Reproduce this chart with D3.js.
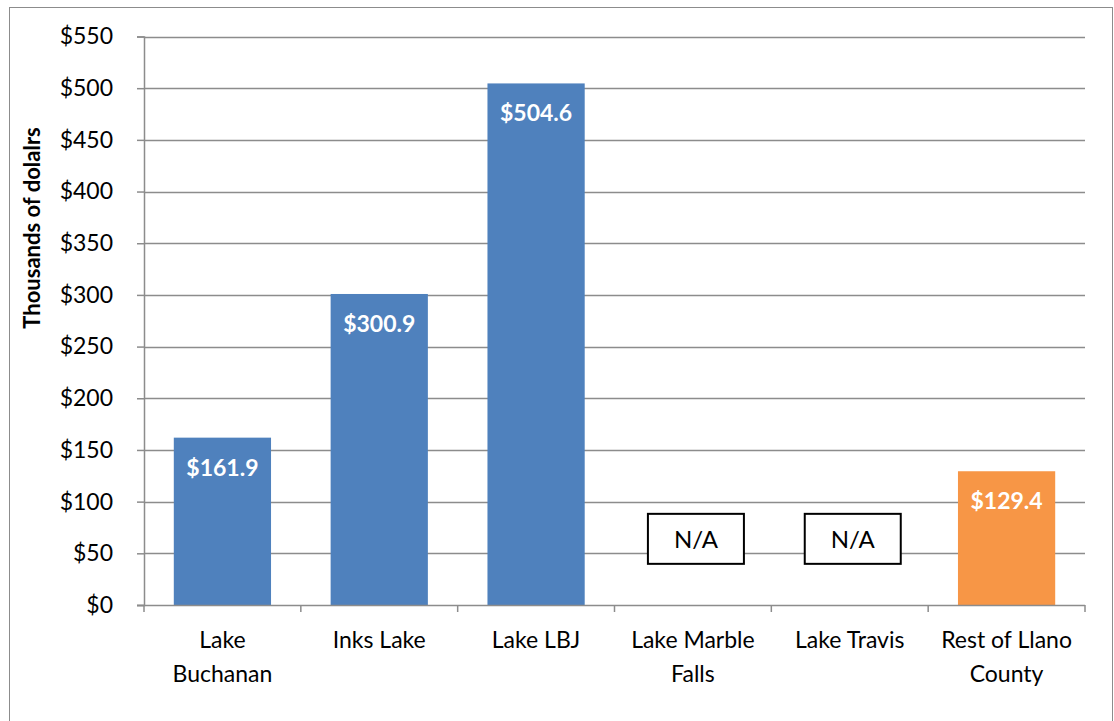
<!DOCTYPE html>
<html>
<head>
<meta charset="utf-8">
<script src="https://cdn.jsdelivr.net/npm/d3@7"></script>
<style>
  body { margin: 0; background: #fff; }
  svg { display: block; font-family: Lato, "Open Sans", sans-serif; }
</style>
</head>
<body>
<svg id="chart"></svg>
<script>
const categories = [
  ['Lake', 'Buchanan'],
  ['Inks Lake'],
  ['Lake LBJ'],
  ['Lake Marble', 'Falls'],
  ['Lake Travis'],
  ['Rest of Llano', 'County'],
];
const values = [161.9, 300.9, 504.6, null, null, 129.4];
const barColors = ['#4f81bd', '#4f81bd', '#4f81bd', '#4f81bd', '#4f81bd', '#f79646'];
const yTicks = [0, 50, 100, 150, 200, 250, 300, 350, 400, 450, 500, 550];
const naLabel = 'N/A';
const naLevel = 64;

const width = 1114;
const height = 721;
const margin = {top: 36.5, right: 29, bottom: 116, left: 144};

const svg = d3.select('#chart')
  .attr('width', width)
  .attr('height', height);

// outer frame
svg.append('rect')
  .attr('x', 9.5).attr('y', 7.5)
  .attr('width', width - 11).attr('height', height - 6)
  .attr('fill', '#fff')
  .attr('stroke', '#8c8c8c')
  .attr('stroke-width', 1);

const x = d3.scaleBand()
  .domain(d3.range(categories.length))
  .range([margin.left, width - margin.right])
  .paddingInner(0.38)
  .paddingOuter(0.19);

const y = d3.scaleLinear()
  .domain([0, 550])
  .range([height - margin.bottom, margin.top]);

// grid
svg.append('g')
  .selectAll('line')
  .data(yTicks.filter(d => d > 0))
  .join('line')
  .attr('x1', margin.left)
  .attr('x2', width - margin.right)
  .attr('y1', d => Math.round(y(d)) + 0.5)
  .attr('y2', d => Math.round(y(d)) + 0.5)
  .attr('stroke', '#8c8c8c')
  .attr('stroke-width', 1.5);

// y axis
const yAxis = svg.append('g')
  .attr('transform', `translate(${margin.left},0)`)
  .call(d3.axisLeft(y).tickValues(yTicks).tickSize(7).tickPadding(24).tickFormat(d => '$' + d));
yAxis.select('.domain').attr('stroke', '#8c8c8c').attr('stroke-width', 1.5);
yAxis.selectAll('.tick line').attr('stroke', '#8c8c8c').attr('stroke-width', 1.5);
yAxis.selectAll('.tick text').attr('font-size', 23).attr('fill', '#000').attr('font-family', 'Lato, sans-serif');

// bars
const bandStep = x.step();
svg.append('g')
  .selectAll('rect')
  .data(values.map((v, i) => ({v, i})).filter(d => d.v != null))
  .join('rect')
  .attr('x', d => x(d.i))
  .attr('width', x.bandwidth())
  .attr('y', d => y(d.v))
  .attr('height', d => y(0) - y(d.v))
  .attr('fill', d => barColors[d.i]);

// value labels
svg.append('g')
  .selectAll('text')
  .data(values.map((v, i) => ({v, i})).filter(d => d.v != null))
  .join('text')
  .attr('x', d => x(d.i) + x.bandwidth() / 2)
  .attr('y', d => y(d.v) + 38)
  .attr('text-anchor', 'middle')
  .attr('font-size', 23)
  .attr('font-weight', 'bold')
  .attr('fill', '#fff')
  .text(d => '$' + d.v.toFixed(1));

// N/A boxes
const na = svg.append('g')
  .selectAll('g')
  .data(values.map((v, i) => ({v, i})).filter(d => d.v == null))
  .join('g')
  .attr('transform', d => `translate(${x(d.i) + x.bandwidth() / 2 + 3},${y(naLevel)})`);
na.append('rect')
  .attr('x', -48).attr('y', -25)
  .attr('width', 96).attr('height', 50)
  .attr('fill', '#fff')
  .attr('stroke', '#000')
  .attr('stroke-width', 2);
na.append('text')
  .attr('text-anchor', 'middle')
  .attr('y', 9)
  .attr('font-size', 24)
  .attr('fill', '#000')
  .text(naLabel);

// x axis
const x0 = y(0);
const xAxisG = svg.append('g');
xAxisG.append('line')
  .attr('x1', margin.left - 7).attr('x2', width - margin.right)
  .attr('y1', x0 + 0.5).attr('y2', x0 + 0.5)
  .attr('stroke', '#8c8c8c').attr('stroke-width', 1.5);
xAxisG.selectAll('line.tk')
  .data(d3.range(categories.length + 1))
  .join('line')
  .attr('class', 'tk')
  .attr('x1', i => margin.left + i * bandStep)
  .attr('x2', i => margin.left + i * bandStep)
  .attr('y1', x0).attr('y2', x0 + 7)
  .attr('stroke', '#8c8c8c').attr('stroke-width', 1.5);

xAxisG.selectAll('text')
  .data(categories.map((c, i) => ({c, i})))
  .join('text')
  .attr('text-anchor', 'middle')
  .attr('font-size', 23)
  .attr('fill', '#000')
  .each(function(d) {
    const t = d3.select(this);
    d.c.forEach((line, k) => {
      t.append('tspan')
        .attr('x', x(d.i) + x.bandwidth() / 2)
        .attr('y', x0 + 43 + k * 34)
        .text(line);
    });
  });

// y title
svg.append('text')
  .attr('transform', `translate(40,228) rotate(-90)`)
  .attr('text-anchor', 'middle')
  .attr('font-size', 22)
  .attr('font-weight', 'bold')
  .attr('fill', '#000')
  .text('Thousands of dolalrs');
</script>
</body>
</html>
